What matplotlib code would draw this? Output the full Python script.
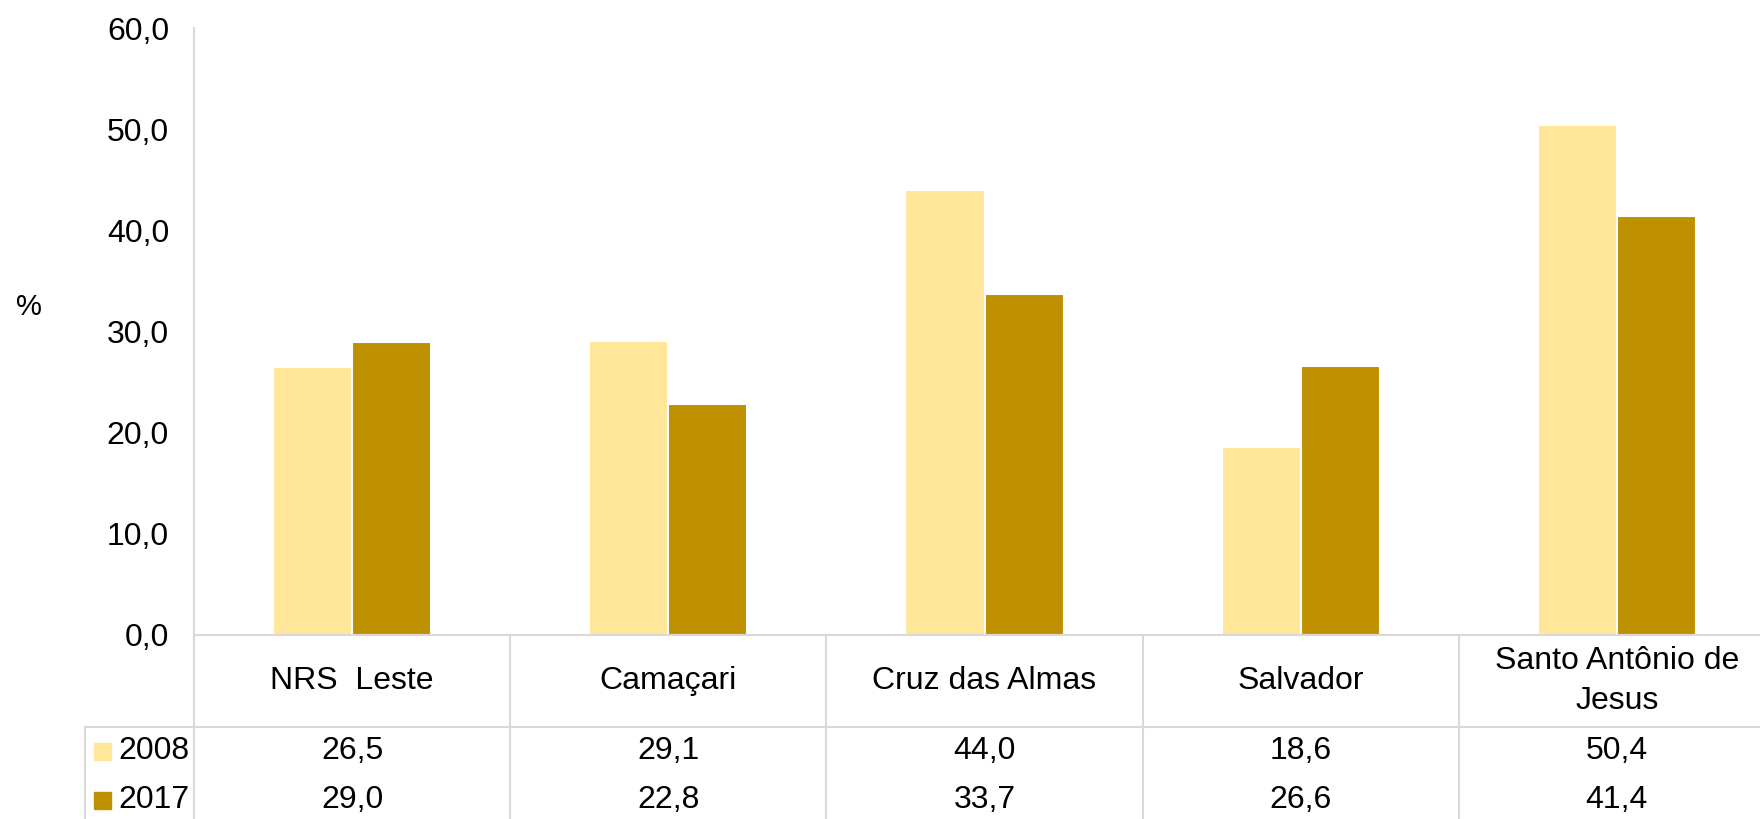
import matplotlib
matplotlib.use("Agg")
import matplotlib.pyplot as plt
from matplotlib.transforms import blended_transform_factory
from matplotlib.patches import Rectangle

plt.rcParams["font.family"] = ["Liberation Sans", "DejaVu Sans"]

categories = ["NRS  Leste", "Camaçari", "Cruz das Almas", "Salvador", "Santo Antônio de\nJesus"]
series_names = ["2008", "2017"]
values_2008 = [26.5, 29.1, 44.0, 18.6, 50.4]
values_2017 = [29.0, 22.8, 33.7, 26.6, 41.4]
colors = ["#FFE699", "#BF9000"]
yticks = [0, 10, 20, 30, 40, 50, 60]

W, H = 1760, 819
FS = 23
grid = "#d9d9d9"

fig = plt.figure(figsize=(W / 100, H / 100), dpi=100)
ax = fig.add_axes([194 / W, (H - 635) / H, 1581 / W, (635 - 28) / H])

x = list(range(len(categories)))
bw = 0.25
ax.bar([i - bw / 2 for i in x], values_2008, bw, color=colors[0], edgecolor="white", linewidth=1.5)
ax.bar([i + bw / 2 for i in x], values_2017, bw, color=colors[1], edgecolor="white", linewidth=1.5)

ax.set_xlim(-0.5, len(categories) - 0.5)
ax.set_ylim(0, 60)
ax.set_yticks(yticks)
ax.set_yticklabels([f"{v:.1f}".replace(".", ",") for v in yticks], fontsize=FS)
ax.tick_params(axis="y", length=0, pad=18)
ax.set_xticks([])
for s in ["top", "right"]:
    ax.spines[s].set_visible(False)
for s in ["left", "bottom"]:
    ax.spines[s].set_color(grid)
    ax.spines[s].set_linewidth(1.5)

fig.text(29 / W, (H - 307) / H, "%", fontsize=21, ha="center", va="center")

# data table under the chart
tr = blended_transform_factory(ax.transData, fig.transFigure)
y_top = (H - 635) / H
y_cat = (H - 681) / H
y_rows = [(H - 751) / H, (H - 800) / H]
y_div = (H - 727) / H

def fmt(v):
    return f"{v:.1f}".replace(".", ",")

for i, c in enumerate(categories):
    ax.text(i, y_cat, c, transform=tr, ha="center", va="center", fontsize=FS, linespacing=1.45)
    ax.text(i, y_rows[0], fmt(values_2008[i]), transform=tr, ha="center", va="center", fontsize=FS)
    ax.text(i, y_rows[1], fmt(values_2017[i]), transform=tr, ha="center", va="center", fontsize=FS)

for b in range(1, len(categories)):
    ax.plot([b - 0.5, b - 0.5], [0, y_top], transform=tr, color=grid, lw=1.5, clip_on=False)
fig.add_artist(plt.Line2D([194 / W, 194 / W], [0, y_top], color=grid, lw=1.5))
fig.add_artist(plt.Line2D([85 / W, 1.0], [y_div, y_div], color=grid, lw=1.5))
fig.add_artist(plt.Line2D([85 / W, 85 / W], [0, y_div], color=grid, lw=1.5))

# legend keys in table
for k, name in enumerate(series_names):
    yc = y_rows[k]
    fig.add_artist(Rectangle((94 / W, yc - 8.5 / H), 17 / W, 17 / H, color=colors[k],
                             transform=fig.transFigure))
    fig.text(118 / W, yc, name, fontsize=FS, ha="left", va="center")

fig.savefig("out.png", dpi=100)
